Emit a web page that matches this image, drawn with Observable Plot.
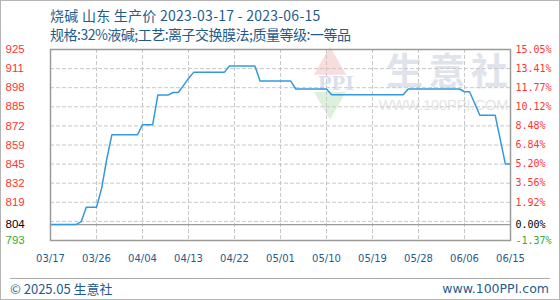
<!DOCTYPE html>
<html><head><meta charset="utf-8">
<script src="https://cdn.jsdelivr.net/npm/d3@7"></script>
<script src="https://cdn.jsdelivr.net/npm/@observablehq/plot@0.6"></script>
<style>
body{margin:0;background:#fff;}
#wrap{position:relative;width:560px;height:300px;overflow:hidden;font-family:"Noto Sans CJK SC","Noto Sans",sans-serif;background:#fff;}
#border{position:absolute;left:0;top:0;width:558px;height:298px;border:1px solid #b4b4b4;pointer-events:none;}
.t{position:absolute;left:50px;color:#1f5c8c;font-size:14px;white-space:nowrap;line-height:18px;}
#chart{position:absolute;left:0;top:40px;}
#hr{position:absolute;left:10px;top:278px;width:540px;border-top:1px solid #aaa;}
.f{position:absolute;top:281px;font-size:13px;color:#1f5c8c;line-height:16px;white-space:nowrap;}
</style></head>
<body>
<div id="wrap">
  <div class="t" id="t1" style="top:6px;letter-spacing:0.25px"></div>
  <div class="t" id="t2" style="top:25px;letter-spacing:-0.5px"></div>
  <div id="chart"></div>
  <div id="hr"></div>
  <div class="f" id="f1" style="left:10px"></div>
  <div class="f" id="f2" style="right:11px;font-family:'DejaVu Sans',sans-serif;font-size:12.5px"></div>
  <div id="border"></div>
</div>
<script>
const title = "烧碱 山东 生产价 2023-03-17 - 2023-06-15";
const subtitle = "规格:32%液碱;工艺:离子交换膜法;质量等级:一等品";
const footerLeft = "© 2025.05 生意社";
const footerRight = "www.100PPI.com";

const dates = ["2023-03-17","2023-03-22","2023-03-23","2023-03-24","2023-03-26","2023-03-27","2023-03-28","2023-03-29",
  "2023-04-03","2023-04-04","2023-04-06","2023-04-07","2023-04-09","2023-04-10","2023-04-11","2023-04-12","2023-04-13",
  "2023-04-14","2023-04-20","2023-04-21","2023-04-26","2023-04-27","2023-05-03","2023-05-04","2023-05-10","2023-05-11",
  "2023-05-25","2023-05-26","2023-06-05","2023-06-06","2023-06-07","2023-06-08","2023-06-09","2023-06-12","2023-06-13",
  "2023-06-14","2023-06-15"];
const prices = [804,804,806,816,816,829,849,866,
  866,873,873,893.5,893.5,895.3,895.3,900,905,
  909.2,909.2,913.6,913.6,903.2,903.2,897.7,897.7,893.7,
  893.7,897.7,897.7,895.8,895.8,887.7,879.6,879.6,862.7,
  845.8,845.8];

const basePrice = 804;
const yGrid = [925,911.8,898.6,885.4,872.2,859,845.8,832.6,819.4,806.2,793];
const yLabelValues = [925,911.8,898.6,885.4,872.2,859,845.8,832.6,819.4,804,793];
const leftLabels = ["925","911","898","885","872","859","845","832","819","804","793"];
const rightLabels = ["15.05%","13.41%","11.77%","10.12%","8.48%","6.84%","5.20%","3.56%","1.92%","0.00%","-1.37%"];
const xTickDates = ["2023-03-17","2023-03-26","2023-04-04","2023-04-13","2023-04-22","2023-05-01","2023-05-10","2023-05-19","2023-05-28","2023-06-06","2023-06-15"];
const xLabels = ["03/17","03/26","04/04","04/13","04/22","05/01","05/10","05/19","05/28","06/06","06/15"];
const wmChars = ["生","意","社"];
const wmUrl = "WWW.100PPI.COM";
const wmLogo = "PPI";

document.getElementById("t1").textContent = title;
document.getElementById("t2").textContent = subtitle;
document.getElementById("f1").textContent = footerLeft;
document.getElementById("f2").textContent = footerRight;

const parse = d3.utcParse("%Y-%m-%d");
const data = dates.map((d,i)=>({date: parse(d), price: prices[i]}));
const xTicks = xTickDates.map(parse);
const labelColor = v => v > basePrice ? "#ff3333" : (v === basePrice ? "#000000" : "#33aa33");

const chart = Plot.plot({
  width: 560, height: 230,
  marginLeft: 50, marginRight: 50, marginTop: 9, marginBottom: 30,
  x: {type: "utc", domain: [xTicks[0], xTicks[xTicks.length-1]], axis: null},
  y: {domain: [793, 925], axis: null},
  color: {type: "identity"},
  style: {fontFamily: "'Liberation Sans', sans-serif", background: "transparent", overflow: "visible"},
  marks: [
    // watermark
    Plot.dot([0], {frameAnchor: "top-left", dx: 279.5, dy: 16, symbol: "triangle", r: 12, fill: "#f9dcdc", stroke: "none"}),
    Plot.dot([0], {frameAnchor: "top-left", dx: 279.5, dy: 51.5, symbol: "triangle", rotate: 180, r: 12, fill: "#dcf0dc", stroke: "none"}),
    Plot.text([wmLogo], {frameAnchor: "top-left", dx: 285.5, dy: 33, fontSize: 22, fill: "#d8e0ee", textAnchor: "middle", lineAnchor: "middle", fontFamily: "Liberation Serif", fontWeight: "bold"}),
    Plot.text([wmChars[0]], {frameAnchor: "top-right", dx: -106, dy: 23.5, fontSize: 37, fill: "#dfe4ec", textAnchor: "middle", lineAnchor: "middle", fontFamily: "Noto Sans CJK SC", fontWeight: "bold"}),
    Plot.text([wmChars[1]], {frameAnchor: "top-right", dx: -63.5, dy: 23.5, fontSize: 37, fill: "#dfe4ec", textAnchor: "middle", lineAnchor: "middle", fontFamily: "Noto Sans CJK SC", fontWeight: "bold"}),
    Plot.text([wmChars[2]], {frameAnchor: "top-right", dx: -21, dy: 23.5, fontSize: 37, fill: "#dfe4ec", textAnchor: "middle", lineAnchor: "middle", fontFamily: "Noto Sans CJK SC", fontWeight: "bold"}),
    Plot.text([wmUrl], {frameAnchor: "top-right", dx: -67, dy: 56, fontSize: 14.5, fill: "#e4e4e4", textAnchor: "middle", lineAnchor: "middle", fontFamily: "Liberation Sans"}),
    // grid
    Plot.ruleY(yGrid, {y: d => d, stroke: "#c8c8c8", strokeDasharray: "4,2", strokeWidth: 1}),
    Plot.ruleX(xTicks.slice(1, -1), {x: d => d, stroke: "#c8c8c8", strokeDasharray: "4,2", strokeWidth: 1}),
    Plot.ruleY([basePrice], {y: d => d, stroke: "#9a9a9a", strokeWidth: 1.3}),
    // series
    Plot.line(data, {x: "date", y: "price", stroke: "#3399dd", strokeWidth: 1.5}),
    Plot.frame({stroke: "#9a9a9a", strokeWidth: 1.5}),
    // axes labels
    Plot.text(yLabelValues, {y: d => d, text: (d,i) => leftLabels[i], fill: d => labelColor(d), frameAnchor: "left", dx: -45, textAnchor: "start", lineAnchor: "middle", fontSize: 11.5}),
    Plot.text(yLabelValues, {y: d => d, text: (d,i) => rightLabels[i], fill: d => labelColor(d), frameAnchor: "right", dx: 5, textAnchor: "start", lineAnchor: "middle", fontSize: 10, fontFamily: "DejaVu Sans Mono"}),
    Plot.text(xTicks, {x: d => d, text: (d,i) => xLabels[i], fill: "#1f5c8c", frameAnchor: "bottom", dy: 18.6, textAnchor: "middle", lineAnchor: "middle", fontSize: 10, fontFamily: "DejaVu Sans"})
  ]
});
document.getElementById("chart").appendChild(chart);
</script>
</body></html>
